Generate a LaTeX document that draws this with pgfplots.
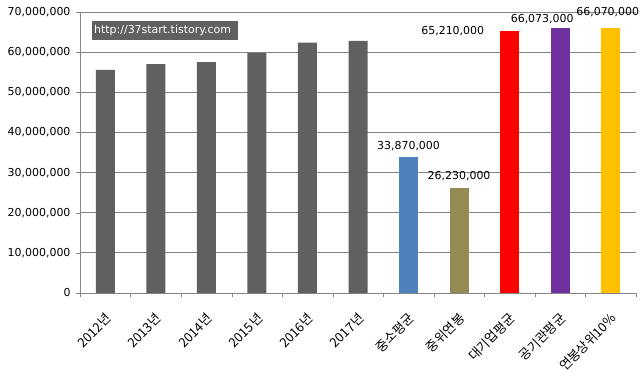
\documentclass[border=0pt]{standalone}
\usepackage{fontspec}
\setmainfont{DejaVu Sans}
\newfontfamily\cjk{Noto Sans CJK KR}
\usepackage{pgfplots}
\pgfplotsset{compat=1.18}
\definecolor{bargrey}{HTML}{606060}
\definecolor{barblue}{HTML}{4F81BD}
\definecolor{barolive}{HTML}{948A54}
\definecolor{barred}{HTML}{FF0000}
\definecolor{barpurple}{HTML}{7030A0}
\definecolor{baryellow}{HTML}{FFC000}
\definecolor{gridgrey}{HTML}{868686}
\begin{document}
\begin{tikzpicture}
\begin{axis}[
  scale only axis, width=556bp, height=281bp,
  xmin=-0.5, xmax=10.5, ymin=0, ymax=70000000,
  axis x line*=bottom, axis y line*=left,
  axis line style={draw=gridgrey},
  ytick={0,10000000,20000000,30000000,40000000,50000000,60000000,70000000},
  scaled y ticks=false,
  /pgf/number format/assume math mode=true,
  /pgf/number format/fixed,
  /pgf/number format/1000 sep={,},
  yticklabel style={font=\fontsize{11}{13}\selectfont, xshift=-2bp},
  ymajorgrids, grid style={draw=gridgrey, line width=0.8bp},
  ytick style={draw=gridgrey},
  major tick length=4bp, tick align=outside,
  xtick={-0.5,0.5,...,10.5}, xticklabels={},
  xtick style={draw=gridgrey},
  extra x ticks={0,1,2,3,4,5,6,7,8,9,10},
  extra x tick labels={2012년,2013년,2014년,2015년,2016년,2017년,중소평균,중위연봉,대기업평균,공기관평균,연봉상위10\%},
  extra x tick style={major tick length=0pt, grid=none},
  xticklabel style={font=\cjk\fontsize{13}{15}\selectfont, xshift=-1bp, yshift=-14bp, rotate=45, anchor=north east},
  nodes near coords style={font=\fontsize{11}{13}\selectfont, text=black},
  clip=false,
]
\addplot[ybar, bar width=19bp, bar shift=0pt, fill=bargrey, draw=none]
  coordinates {(0,55600000) (1,57000000) (2,57500000) (3,59800000) (4,62400000) (5,62800000)};
\addplot[ybar, bar width=19bp, bar shift=0pt, fill=barblue, draw=none,
  nodes near coords, every node near coord/.append style={yshift=3bp}]
  coordinates {(6,33870000)};
\addplot[ybar, bar width=19bp, bar shift=0pt, fill=barolive, draw=none,
  nodes near coords, every node near coord/.append style={yshift=3bp}]
  coordinates {(7,26230000)};
\addplot[ybar, bar width=19bp, bar shift=0pt, fill=barred, draw=none,
  nodes near coords, every node near coord/.append style={anchor=east, xshift=-22bp}]
  coordinates {(8,65210000)};
\addplot[ybar, bar width=19bp, bar shift=0pt, fill=barpurple, draw=none,
  nodes near coords, every node near coord/.append style={xshift=-18bp}]
  coordinates {(9,66073000)};
\addplot[ybar, bar width=19bp, bar shift=0pt, fill=baryellow, draw=none,
  nodes near coords, every node near coord/.append style={xshift=-3bp, yshift=7bp}]
  coordinates {(10,66070000)};
\node[anchor=north west, fill=bargrey, text=white, minimum width=146bp, minimum height=19bp,
  inner sep=2bp, align=left, font=\fontsize{11}{13}\selectfont, text width=142bp]
  at ([xshift=12bp,yshift=-9bp]rel axis cs:0,1) {http://37start.tistory.com};
\coordinate (O) at (rel axis cs:0,0);
\end{axis}
\pgfresetboundingbox
\path (O) ++(-80bp,-85bp) rectangle ++(642bp,378bp);
\end{tikzpicture}
\end{document}
